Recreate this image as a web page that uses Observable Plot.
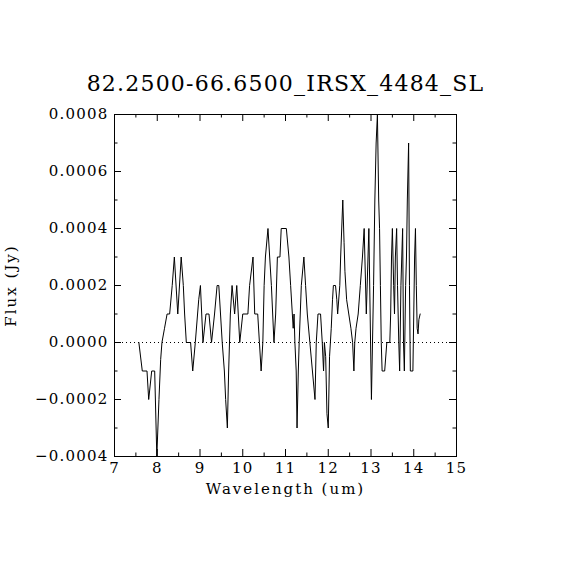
<!DOCTYPE html>
<html>
<head>
<meta charset="utf-8">
<script src="https://cdn.jsdelivr.net/npm/d3@7"></script>
<script src="https://cdn.jsdelivr.net/npm/@observablehq/plot@0.6"></script>
<style>
  html, body { margin: 0; padding: 0; background: #fff; }
  svg { display: block; }
</style>
</head>
<body>
<div id="chart"></div>
<script>
const title = "82.2500-66.6500_IRSX_4484_SL";
const xLabel = "Wavelength (um)";
const yLabel = "Flux (Jy)";

const wavelength = [
  7.57, 7.65, 7.76, 7.80, 7.87, 7.94, 7.99, 8.04, 8.08, 8.11,
  8.17, 8.23, 8.29, 8.35, 8.40, 8.48, 8.56, 8.61, 8.64, 8.68,
  8.78, 8.83, 8.89, 8.97, 9.01, 9.07, 9.14, 9.21, 9.27, 9.34,
  9.40, 9.44, 9.52, 9.57, 9.60, 9.64, 9.67, 9.71, 9.75, 9.81,
  9.86, 9.93, 10.00, 10.12, 10.16, 10.24, 10.28, 10.35, 10.39, 10.43,
  10.47, 10.50, 10.53, 10.59, 10.63, 10.67, 10.70, 10.73, 10.77, 10.81,
  10.87, 10.90, 11.02, 11.08, 11.12, 11.16, 11.18, 11.20, 11.22, 11.25,
  11.27, 11.30, 11.32, 11.37, 11.43, 11.47, 11.51, 11.57, 11.63, 11.69,
  11.72, 11.76, 11.82, 11.86, 11.89, 11.91, 11.94, 11.97, 12.00, 12.03,
  12.07, 12.10, 12.12, 12.17, 12.20, 12.22, 12.27, 12.29, 12.34, 12.37,
  12.39, 12.43, 12.48, 12.53, 12.57, 12.60, 12.62, 12.65, 12.70, 12.75,
  12.80, 12.84, 12.89, 12.95, 13.01, 13.06, 13.09, 13.12, 13.15, 13.18,
  13.20, 13.22, 13.24, 13.26, 13.32, 13.37, 13.44, 13.46, 13.48, 13.50,
  13.53, 13.55, 13.57, 13.60, 13.62, 13.65, 13.67, 13.70, 13.72, 13.74,
  13.76, 13.78, 13.81, 13.83, 13.85, 13.88, 13.90, 13.92, 13.98, 14.00,
  14.02, 14.04, 14.06, 14.08, 14.10, 14.12, 14.15
];

const flux = [
  0, -1e-4, -1e-4, -2e-4, -1e-4, -1e-4, -4e-4, -2e-4, -0.6e-4, 0,
  0.5e-4, 1e-4, 1e-4, 2e-4, 3e-4, 1e-4, 3e-4, 2e-4, 1e-4, 0,
  0, -1e-4, 0, 1.5e-4, 2e-4, 0, 1e-4, 1e-4, 0, 1e-4,
  2e-4, 2e-4, 0, -1e-4, -2e-4, -3e-4, -1e-4, 1e-4, 2e-4, 1e-4,
  2e-4, 0, 1e-4, 1e-4, 2e-4, 3e-4, 1e-4, 1e-4, 0, -1e-4,
  0, 2e-4, 3e-4, 4e-4, 3e-4, 2e-4, 1e-4, 0, 1e-4, 3e-4,
  3e-4, 4e-4, 4e-4, 3e-4, 2e-4, 1e-4, 0.5e-4, 1e-4, 0, -1e-4,
  -3e-4, -1e-4, 0, 2e-4, 3e-4, 2e-4, 1e-4, 0, -1e-4, -2e-4,
  0, 1e-4, 1e-4, 0, -1e-4, 0, -0.5e-4, -2.5e-4, -3e-4, -0.5e-4,
  0.5e-4, 1.5e-4, 2e-4, 2e-4, 1.5e-4, 1e-4, 2e-4, 3e-4, 5e-4, 3.5e-4,
  2.5e-4, 1.5e-4, 1e-4, 0.5e-4, 0, -1e-4, 0, 0.5e-4, 1e-4, 2e-4,
  3e-4, 4e-4, 1e-4, 4e-4, -2e-4, 2e-4, 5e-4, 7e-4, 8e-4, 5e-4,
  4e-4, 2e-4, 0, -1e-4, -1e-4, 0, 0, 1e-4, 3e-4, 4e-4,
  2e-4, 1e-4, 3e-4, 4e-4, 2e-4, 0, -1e-4, 2e-4, 3e-4, 4e-4,
  0, -1e-4, 2e-4, 3e-4, 5e-4, 7e-4, 2e-4, -1e-4, -1e-4, 1e-4,
  3e-4, 4e-4, 2e-4, 0.5e-4, 0.3e-4, 0.8e-4, 1e-4
];

const xMajor = [7, 8, 9, 10, 11, 12, 13, 14, 15];
const xMinor = [7.5, 8.5, 9.5, 10.5, 11.5, 12.5, 13.5, 14.5];
const yMajor = [-0.0004, -0.0002, 0, 0.0002, 0.0004, 0.0006, 0.0008];
const yMinor = [-0.0003, -0.0001, 0.0001, 0.0003, 0.0005, 0.0007];

const data = wavelength.map((w, i) => ({w, f: flux[i]}));
const fmtY = d => (d < 0 ? "\u2212" : "") + Math.abs(d).toFixed(4);

const W = 570, H = 570, M = 114;
const inner = H - 2 * M;
const majorLen = 7, minorLen = 3.5;
const font = "DejaVu Serif";

const chart = Plot.plot({
  width: W,
  height: H,
  marginLeft: M, marginRight: M, marginTop: M, marginBottom: M,
  style: {fontFamily: font, background: "white", color: "black"},
  x: {domain: [7, 15]},
  y: {domain: [-0.0004, 0.0008]},
  marks: [
    Plot.ruleY([0], {stroke: "black", strokeWidth: 1, strokeDasharray: "1,3"}),
    Plot.line(data, {x: "w", y: "f", stroke: "black", strokeWidth: 1}),
    // inward ticks, bottom & top
    Plot.tickX(xMajor, {x: d => d, stroke: "black", insetTop: inner - majorLen}),
    Plot.tickX(xMajor, {x: d => d, stroke: "black", insetBottom: inner - majorLen}),
    Plot.tickX(xMinor, {x: d => d, stroke: "black", insetTop: inner - minorLen}),
    Plot.tickX(xMinor, {x: d => d, stroke: "black", insetBottom: inner - minorLen}),
    // inward ticks, left & right
    Plot.tickY(yMajor, {y: d => d, stroke: "black", insetRight: inner - majorLen}),
    Plot.tickY(yMajor, {y: d => d, stroke: "black", insetLeft: inner - majorLen}),
    Plot.tickY(yMinor, {y: d => d, stroke: "black", insetRight: inner - minorLen}),
    Plot.tickY(yMinor, {y: d => d, stroke: "black", insetLeft: inner - minorLen}),
    Plot.frame({stroke: "black", strokeWidth: 1}),
    Plot.axisX(xMajor, {anchor: "bottom", tickSize: 0, tickPadding: 6, fontSize: 15, label: null, tickFormat: d => String(d)}),
    Plot.axisY(yMajor, {anchor: "left", tickSize: 0, tickPadding: 6, fontSize: 15, label: null, tickFormat: fmtY}),
    Plot.text([title], {frameAnchor: "top", textAnchor: "middle", lineAnchor: "middle", dy: -31, fontSize: 22, fill: "black"}),
    Plot.text([xLabel], {frameAnchor: "bottom", textAnchor: "middle", lineAnchor: "middle", dy: 33, fontSize: 15, fill: "black"}),
    Plot.text([yLabel], {frameAnchor: "left", textAnchor: "middle", lineAnchor: "middle", dx: -103, rotate: -90, fontSize: 15, fill: "black"})
  ]
});

// widen the lettering to match the reference's broad vector font
d3.select(chart).selectAll("text").each(function () {
  const t = this.textContent;
  let ls = 1.2;
  if (t === xLabel || t === yLabel) ls = 2;
  this.setAttribute("letter-spacing", ls);
});

document.getElementById("chart").appendChild(chart);
</script>
</body>
</html>
